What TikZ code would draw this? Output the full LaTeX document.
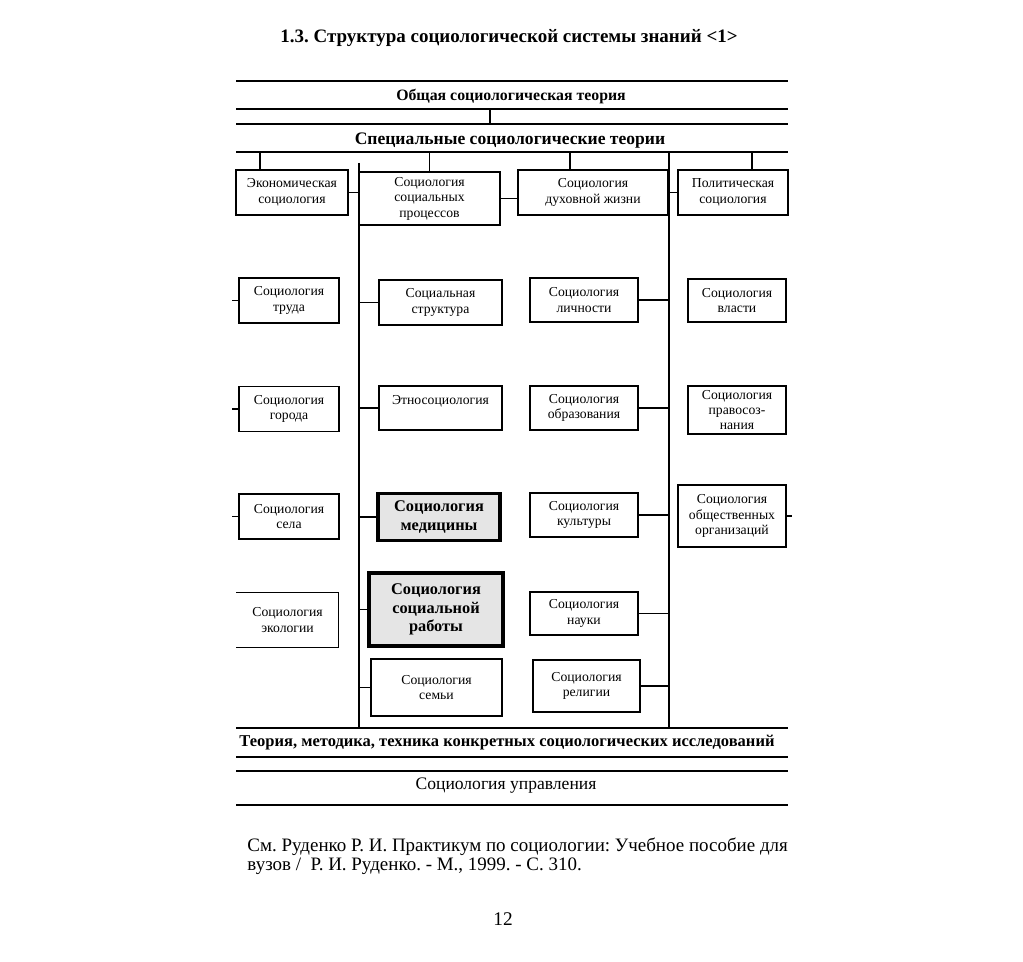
\documentclass[tikz,border=0pt]{standalone}
\usepackage{fontspec}
\setmainfont{Liberation Serif}
\frenchspacing
\newcommand\boxfont{\fontsize{7.8}{8.8}\selectfont}
\newcommand\heavyfont{\fontsize{9.3}{10.6}\selectfont\bfseries}
\tikzset{
 block/.style={draw, line width=0.7pt, align=center, inner sep=1pt, font=\boxfont, minimum height=0.9cm},
 heavy/.style={block, line width=2.2pt, fill=black!10, font=\heavyfont},
 rule/.style={line width=0.9pt}
}

\begin{document}
\begin{tikzpicture}[x=0.02cm,y=-0.02cm,line width=0.7pt]
\useasboundingbox (0,0) rectangle (1023,962);
\node[font=\fontsize{10.8}{13}\selectfont\bfseries] (title) at (509,38) {1.3. Структура социологической системы знаний <1>};

\foreach \y in {81,109,124,152,728,757,771,805}
  \draw[rule] (236,\y) -- (788,\y);
\node[font=\fontsize{9}{11}\selectfont\bfseries] (general) at (511,97) {Общая социологическая теория};
\node[font=\fontsize{10}{12}\selectfont\bfseries] (special) at (510,141) {Специальные социологические теории};
\coordinate (g) at (490,109);
\coordinate (s) at (490,124);
\draw (g) -- (s);

\coordinate (ltop) at (359,163);
\coordinate (lbot) at (359,728);
\coordinate (rtop) at (669,152);
\coordinate (rbot) at (669,728);
\draw (ltop) -- (lbot);
\draw (rtop) -- (rbot);

\node[block, minimum width=2.24cm] (econ) at (292,192.5) {Экономическая\\социология};
\node[block, minimum width=2.82cm, minimum height=1.06cm] (proc) at (429.5,198.5) {Социология\\социальных\\процессов};
\node[block, minimum width=3cm] (spirit) at (593,192.5) {Социология\\духовной жизни};
\node[block, minimum width=2.2cm] (polit) at (733,192.5) {Политическая\\социология};

\node[block, minimum width=2cm] (trud) at (289,300.5) {Социология\\труда};
\node[block, minimum width=2cm] (gorod) at (289,409) {Социология\\города};
\node[block, minimum width=2cm] (selo) at (289,516.5) {Социология\\села};
\node[block, draw=none, minimum width=2.02cm, minimum height=1.08cm] (ekol) at (287.5,620) {Социология\\экологии};
\draw (ekol.north west) -- (ekol.north east) -- (ekol.south east) -- (ekol.south west);

\node[block, minimum width=2.46cm] (struct) at (440.5,302.5) {Социальная\\структура};
\node[block, minimum width=2.46cm, minimum height=0.88cm] (etno) at (440.5,408) {Этносоциология\\ \mbox{}};
\node[heavy, minimum width=2.44cm, minimum height=0.94cm] (medic) at (439,517) {Социология\\медицины};
\node[heavy, minimum width=2.68cm, minimum height=1.46cm] (swork) at (436,609.5) {Социология\\социальной\\работы};
\node[block, minimum width=2.62cm, minimum height=1.14cm] (semya) at (436.5,687.5) {Социология\\семьи};

\node[block, minimum width=2.16cm, minimum height=0.88cm] (lichn) at (584,300) {Социология\\личности};
\node[block, minimum width=2.16cm, minimum height=0.88cm] (obraz) at (584,408) {Социология\\образования};
\node[block, minimum width=2.16cm, minimum height=0.88cm] (kult) at (584,515) {Социология\\культуры};
\node[block, minimum width=2.16cm, minimum height=0.86cm] (nauka) at (584,613.5) {Социология\\науки};
\node[block, minimum width=2.14cm, minimum height=1.04cm] (relig) at (586.5,686) {Социология\\религии};

\node[block, minimum width=1.96cm, minimum height=0.86cm] (vlast) at (737,300.5) {Социология\\власти};
\node[block, minimum width=1.96cm, minimum height=0.96cm] (pravo) at (737,410) {Социология\\правосоз-\\нания};
\node[block, minimum width=2.16cm, minimum height=1.24cm] (obshch) at (732,516) {Социология\\общественных\\организаций};

\draw ([xshift=-0.64cm]econ.north) -- ++(0,0.36cm);
\draw (proc.north) -- ++(0,0.4cm);
\draw ([xshift=-0.46cm]spirit.north) -- ++(0,0.36cm);
\draw ([xshift=0.38cm]polit.north) -- ++(0,0.36cm);

\draw (econ.east) -- (econ.east -| ltop);
\draw (proc.east) -- (proc.east -| spirit.west);
\draw (polit.west) -- (polit.west -| rtop);

\foreach \n in {struct,etno,medic,swork,semya}
  \draw (\n.west) -- (\n.west -| ltop);
\foreach \n in {lichn,obraz,kult,nauka,relig}
  \draw (\n.east) -- (\n.east -| rtop);
\foreach \n in {trud,gorod,selo}
  \draw (\n.west) -- ++(-0.12cm,0);
\draw (obshch.east) -- ++(0.1cm,0);

\node[font=\fontsize{9.4}{12}\selectfont\bfseries] (method) at (507,743) {Теория, методика, техника конкретных социологических исследований};
\node[font=\fontsize{10}{12}\selectfont] (manage) at (506,786) {Социология управления};

\node[anchor=west, align=left, font=\fontsize{10.8}{11}\selectfont] (note) at (241,856) {См. Руденко Р. И. Практикум по социологии: Учебное пособие для\\вузов / \ Р. И. Руденко. - М., 1999. - С. 310.};
\node[font=\fontsize{11}{13}\selectfont] (page) at (503,919) {12};
\end{tikzpicture}
\end{document}
